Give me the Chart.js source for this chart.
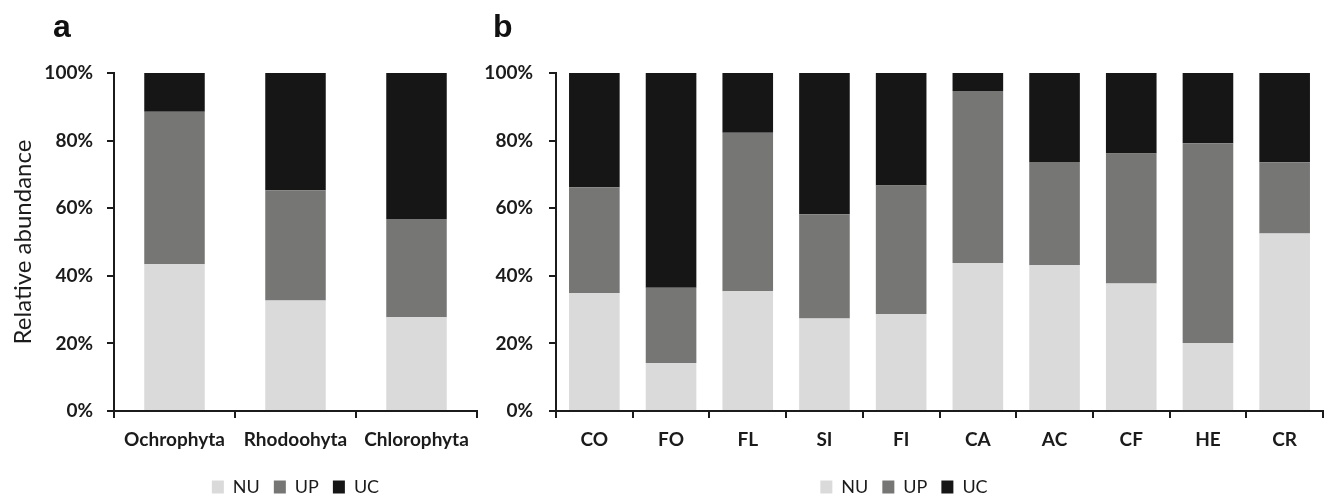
<!DOCTYPE html>
<html>
<head>
<meta charset="utf-8">
<script src="https://cdn.jsdelivr.net/npm/chart.js@4.4.1/dist/chart.umd.min.js"></script>
<style>
  html, body { margin: 0; padding: 0; background: #fff; overflow: hidden; }
  body { width: 1328px; height: 499px; position: relative; }
  .panel { position: absolute; top: 0; height: 506px; }
  #wrapA { left: 0; width: 485px; }
  #wrapB { left: 485px; width: 843px; }
  .letter { position: absolute; top: 10px; font: bold 32px "Liberation Sans", Arial, sans-serif; line-height: 32px; color: #111; }
</style>
</head>
<body>
<div class="panel" id="wrapA"><canvas id="chartA"></canvas></div>
<div class="panel" id="wrapB"><canvas id="chartB"></canvas></div>
<div class="letter" style="left:53px">a</div>
<div class="letter" style="left:493px">b</div>
<script>
// shared
const yTicks = [0, 20, 40, 60, 80, 100];
const seriesNames = ["NU", "UP", "UC"];
const seriesColors = ["#d9dad9", "#767675", "#161616"];

// panel a: algal groups
const groupCats = ["Ochrophyta", "Rhodoohyta", "Chlorophyta"];
const groupNU = [43.4, 32.7, 27.7];
const groupUP = [45.1, 32.6, 29.1];
const groupUC = [11.5, 34.7, 43.2];

// panel b: functional groups
const funcCats = ["CO", "FO", "FL", "SI", "FI", "CA", "AC", "CF", "HE", "CR"];
const funcNU = [34.9, 14.2, 35.4, 27.4, 28.7, 43.8, 43.1, 37.7, 20.1, 52.5];
const funcUP = [31.3, 22.3, 46.9, 30.8, 38.0, 50.9, 30.6, 38.5, 59.1, 21.1];
const funcUC = [33.8, 63.5, 17.7, 41.8, 33.3, 5.3, 26.3, 23.8, 20.8, 26.4];

const INK = "#1b1b1b";
const FONT = "Lato, 'Open Sans', sans-serif";

function makeChart(canvas, cats, series, opt) {
  const datasets = series.map((vals, i) => ({
    label: seriesNames[i],
    data: vals,
    backgroundColor: seriesColors[i],
    borderWidth: 0,
    categoryPercentage: 1,
    barPercentage: opt.barPct,
  }));

  return new Chart(canvas.getContext("2d"), {
    type: "bar",
    data: { labels: cats, datasets },
    options: {
      responsive: true,
      maintainAspectRatio: false,
      animation: false,
      layout: { padding: { top: 73, right: opt.padRight, bottom: 0, left: 0 } },
      scales: {
        x: {
          stacked: true,
          grid: { display: true, drawOnChartArea: false, drawTicks: true, tickLength: 7, color: INK, lineWidth: 2 },
          border: { color: INK, width: 2 },
          ticks: { color: INK, padding: 10, font: { family: FONT, size: 19, weight: "bold" }, maxRotation: 0 },
          afterFit: s => { s.height = 53; },
        },
        y: {
          stacked: true,
          min: 0,
          max: 100,
          afterBuildTicks: s => { s.ticks = yTicks.map(v => ({ value: v })); },
          grid: { display: true, drawOnChartArea: false, drawTicks: true, tickLength: 7, color: INK, lineWidth: 2 },
          border: { color: INK, width: 2 },
          ticks: { color: INK, padding: opt.tickPad, font: { family: FONT, size: 19, weight: "bold" }, callback: v => v + "%" },
          title: opt.yTitle
            ? { display: true, text: opt.yTitle, color: INK, font: { family: FONT, size: 24 }, padding: { top: 9, bottom: 0 } }
            : { display: false },
          afterFit: s => { s.width = opt.yWidth; },
        },
      },
      plugins: {
        legend: {
          position: "bottom",
          fullSize: opt.legendFull,
          labels: { boxWidth: 12, boxHeight: 13, padding: 14, color: INK, font: { family: FONT, size: 18 } },
        },
        tooltip: { enabled: false },
      },
    },
  });
}

makeChart(document.getElementById("chartA"), groupCats, [groupNU, groupUP, groupUC],
  { barPct: 0.5, padRight: 8, yWidth: 114, tickPad: 14, yTitle: "Relative abundance", legendFull: false });

makeChart(document.getElementById("chartB"), funcCats, [funcNU, funcUP, funcUC],
  { barPct: 0.66, padRight: 5, yWidth: 71, tickPad: 16, yTitle: null, legendFull: true });
</script>
</body>
</html>
